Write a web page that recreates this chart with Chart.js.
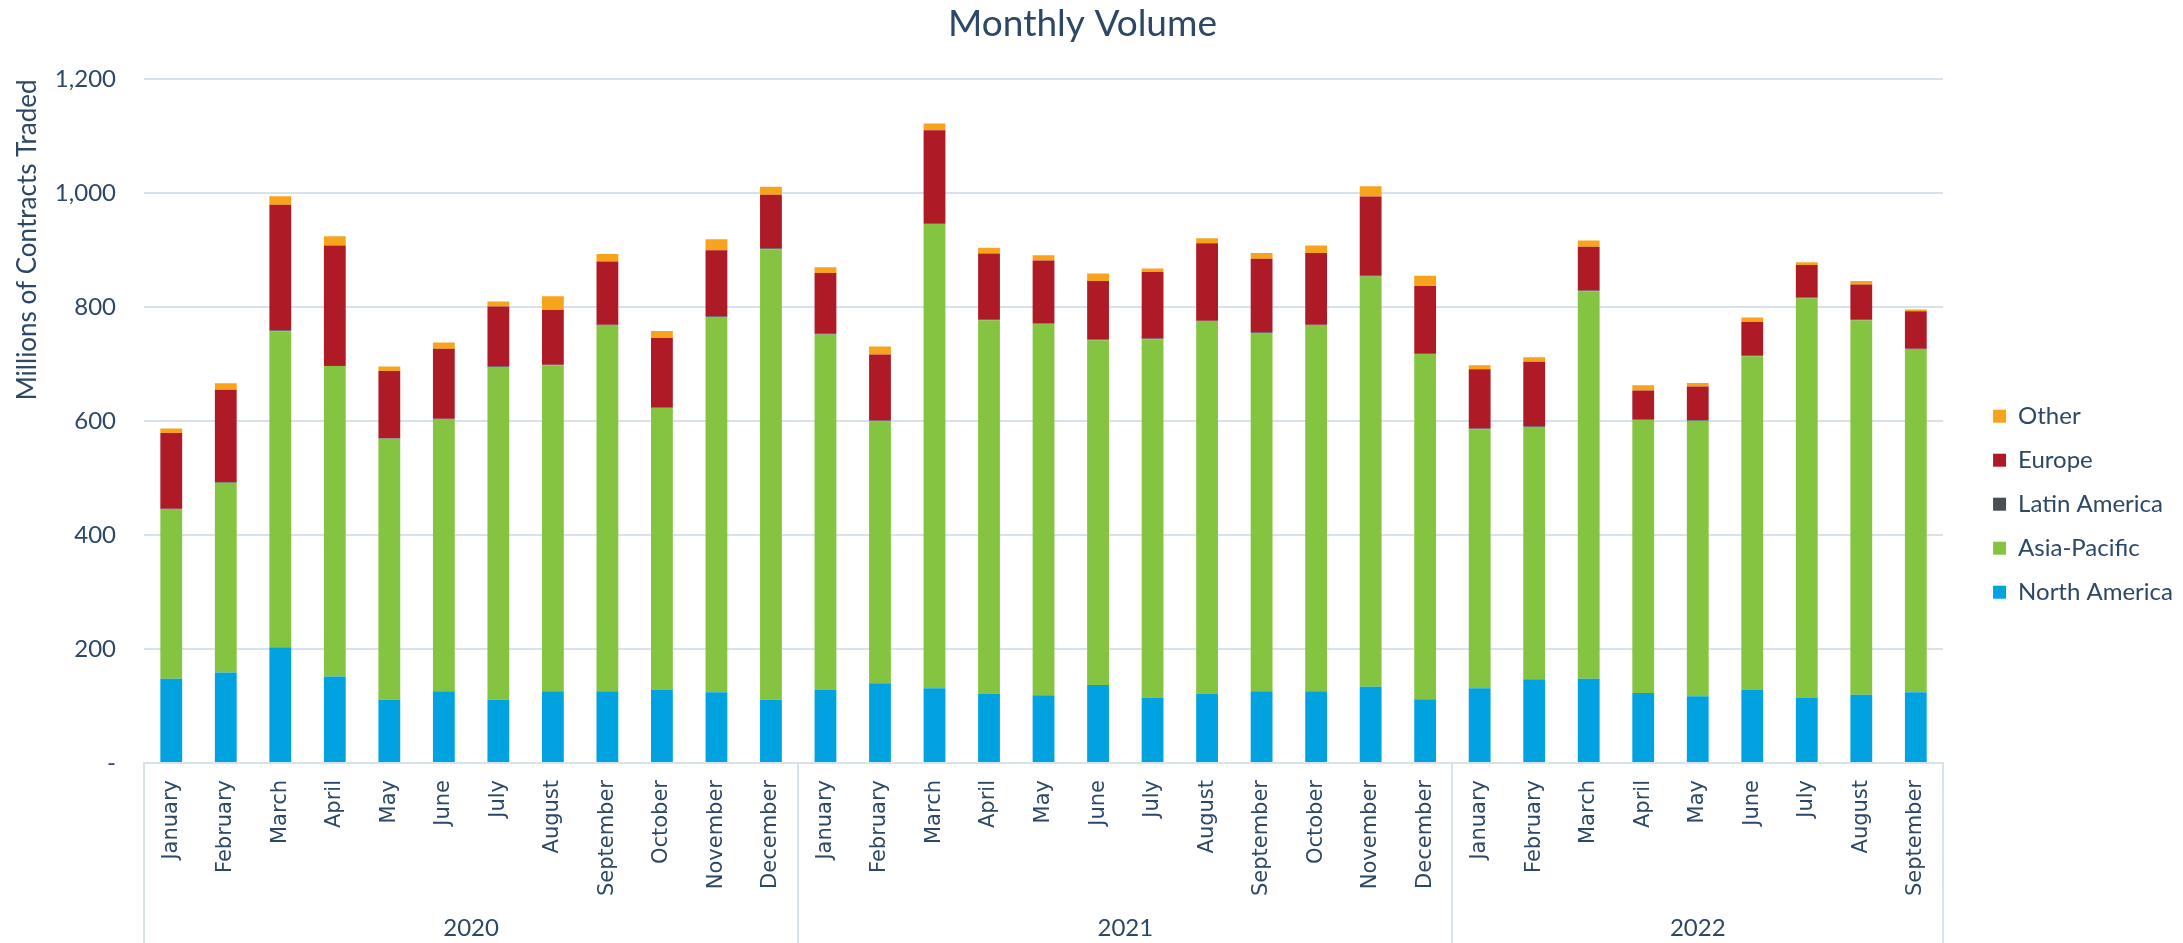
<!DOCTYPE html>
<html>
<head>
<meta charset="utf-8">
<script src="https://cdn.jsdelivr.net/npm/chart.js@4.4.0/dist/chart.umd.min.js"></script>
<style>
  html, body { margin: 0; padding: 0; background: #ffffff; }
  #wrap { width: 2183px; height: 943px; position: relative; }
</style>
</head>
<body>
<div id="wrap"><canvas id="chart"></canvas></div>
<script>
// ---- Data ----
const months = [
  'January','February','March','April','May','June','July','August','September','October','November','December',
  'January','February','March','April','May','June','July','August','September','October','November','December',
  'January','February','March','April','May','June','July','August','September'
];
const years = ['2020', '2021', '2022'];
const monthsPerYear = [12, 12, 9];

const northAmerica = [148,159,203,152,111,126,111,126,126,129,124,111, 129,140,131,122,119,137,115,122,126,126,134,112, 131,147,148,123,117,128,114,120,124];
const asiaPacific  = [297,333,555,545,458,477,584,572,642,494,659,791, 623,460,815,655,652,605,629,653,629,642,720,606, 455,443,680,479,484,586,702,657,602];
const latinAmerica = [1.2,1.4,1.8,1.6,1.1,1.2,1.3,1.2,1.4,1.2,1.3,1.5, 1.3,1.2,1.6,1.3,1.2,1.2,1.1,1.3,1.2,1.3,1.4,1.2, 1.1,1.2,1.3,1.1,1.0,1.1,1.0,1.1,1.0];
const europe       = [133,162,220,210,118,123,105,96,111,122,116,94, 107,116,163,116,110,103,117,136,129,126,139,118, 104,113,77,51,59,59,57,62,66];
const other        = [8,11,15,16,8,11,9,24,13,12,19,14, 10,14,12,10,9,13,6,9,10,13,18,18, 7,8,11,9,6,8,5,6,3];

const yTickValues = [0, 200, 400, 600, 800, 1000, 1200];
const yTickLabels = ['-', '200', '400', '600', '800', '1,000', '1,200'];

// ---- Derived helpers (from the arrays above) ----
const groupStarts = [];
const yearCenters = [];
let acc = 0;
monthsPerYear.forEach((n) => { groupStarts.push(acc); yearCenters.push(acc + (n - 1) / 2); acc += n; });
const boundaries = groupStarts.concat([acc]);

const NAVY = '#2C4866';
const GRID = '#D8E2EC';

const sepColor = (ctx) => {
  if (ctx.type !== 'tick') return GRID;           // final (right-edge) line
  return boundaries.includes(ctx.index) ? GRID : 'rgba(0,0,0,0)';
};

Chart.defaults.font.family = 'Lato, "Open Sans", sans-serif';
Chart.defaults.color = NAVY;

new Chart(document.getElementById('chart'), {
  type: 'bar',
  data: {
    labels: months,
    datasets: [
      { label: 'North America', data: northAmerica, backgroundColor: '#00A3E0' },
      { label: 'Asia-Pacific',  data: asiaPacific,  backgroundColor: '#84C441' },
      { label: 'Latin America', data: latinAmerica, backgroundColor: '#4B4F54' },
      { label: 'Europe',        data: europe,       backgroundColor: '#AE1A26' },
      { label: 'Other',         data: other,        backgroundColor: '#F7A31C' }
    ]
  },
  options: {
    responsive: true,
    maintainAspectRatio: false,
    animation: false,
    layout: { padding: { left: -18, right: 0, top: 0, bottom: 0 } },
    datasets: { bar: { barPercentage: 0.4, categoryPercentage: 1.0, borderWidth: 0 } },
    plugins: {
      title: {
        display: true,
        text: 'Monthly Volume',
        color: NAVY,
        font: { size: 37, weight: 'normal' },
        padding: { top: 2, bottom: 33 }
      },
      legend: {
        position: 'right',
        reverse: true,
        title: { display: true, text: '', font: { size: 12 }, padding: { top: 26, bottom: 25 } },
        labels: {
          boxWidth: 13,
          boxHeight: 13,
          padding: 20,
          color: NAVY,
          font: { size: 24 }
        }
      },
      tooltip: { enabled: false }
    },
    scales: {
      x: {
        stacked: true,
        weight: 0,
        grid: {
          display: true,
          drawOnChartArea: false,
          drawTicks: true,
          tickLength: 180,
          color: sepColor,
          tickColor: sepColor,
          lineWidth: 2,
          tickWidth: 2
        },
        border: { display: true, color: GRID, width: 2 },
        ticks: {
          autoSkip: false,
          minRotation: 90,
          maxRotation: 90,
          padding: -163,
          color: NAVY,
          font: { family: '"DejaVu Sans", Verdana, sans-serif', size: 21 }
        },
        afterFit: (s) => { s.height = 140; }
      },
      x2: {
        type: 'linear',
        position: 'bottom',
        axis: 'x',
        weight: 1,
        offset: false,
        min: -0.5,
        max: months.length - 0.5,
        grid: { display: false, drawTicks: false },
        border: { display: false },
        afterBuildTicks: (axis) => { axis.ticks = yearCenters.map((v) => ({ value: v })); },
        ticks: {
          autoSkip: false,
          maxRotation: 0,
          minRotation: 0,
          padding: 11,
          color: NAVY,
          font: { size: 24 },
          callback: (value) => {
            const i = yearCenters.indexOf(value);
            return i >= 0 ? years[i] : '';
          }
        },
        afterFit: (s) => { s.height = 40; }
      },
      y: {
        stacked: true,
        min: 0,
        max: 1200,
        grid: { color: GRID, lineWidth: 2, drawTicks: false },
        border: { display: false },
        afterBuildTicks: (axis) => { axis.ticks = yTickValues.map((v) => ({ value: v })); },
        ticks: {
          padding: 28,
          color: NAVY,
          font: { size: 24 },
          callback: (value) => {
            const i = yTickValues.indexOf(value);
            return i >= 0 ? yTickLabels[i] : '';
          }
        },
        title: {
          display: true,
          text: 'Millions of Contracts Traded',
          align: 'end',
          color: NAVY,
          font: { size: 26 },
          padding: { top: 30, bottom: 0 }
        },
        afterFit: (s) => { s.width = 162; }
      },
      yRightSpacer: {
        type: 'linear',
        position: 'right',
        axis: 'y',
        display: true,
        grid: { display: false, drawTicks: false },
        border: { display: false },
        ticks: { display: false },
        afterFit: (s) => { s.width = 30; }
      }
    }
  }
});
</script>
</body>
</html>
